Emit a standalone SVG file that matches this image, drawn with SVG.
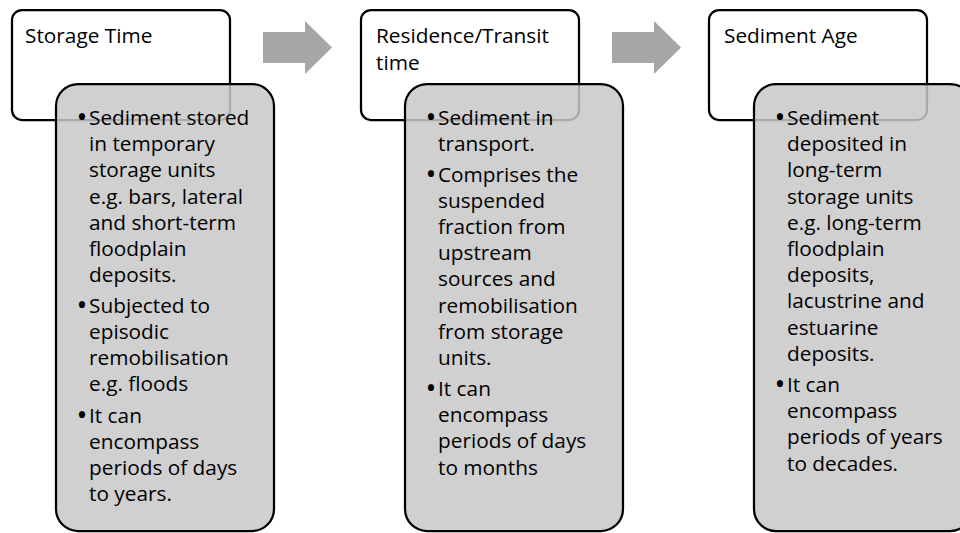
<svg xmlns="http://www.w3.org/2000/svg" width="960" height="533" viewBox="0 0 960 533">
<style>
.hdr{fill:#fff;stroke:#000;stroke-width:2.25}
.body{fill:#c8c8c8;fill-opacity:0.85;stroke:#000;stroke-width:2.25}
.arrow{fill:#a6a6a6}
text{font-family:"Open Sans","Liberation Sans",sans-serif;font-size:20.8px;fill:#000}
.b{font-size:29px}
</style>
<defs>
<polygon id="arr" points="0,11 42,11 42,0 69,26.5 42,53 42,42 0,42"/>
</defs>
<g id="connectors">
<use href="#arr" class="arrow" x="263" y="21"/>
<use href="#arr" class="arrow" x="612" y="21"/>
</g>
<g id="node1">
<rect class="hdr" x="12" y="10" width="218" height="110" rx="10"/>
<text x="25" y="43">Storage Time</text>
<rect class="body" x="56" y="84" width="218" height="447" rx="22"/>
<g>
<text class="b" x="82" y="127" text-anchor="middle">•</text>
<text class="b" x="82" y="314.5" text-anchor="middle">•</text>
<text class="b" x="82" y="424.5" text-anchor="middle">•</text>
<text x="89" y="125">Sediment stored</text>
<text x="89" y="151.2">in temporary</text>
<text x="89" y="177.4">storage units</text>
<text x="89" y="203.6">e.g. bars, lateral</text>
<text x="89" y="229.8">and short-term</text>
<text x="89" y="256">floodplain</text>
<text x="89" y="282.2">deposits.</text>
<text x="89" y="312.5">Subjected to</text>
<text x="89" y="338.7">episodic</text>
<text x="89" y="364.9">remobilisation</text>
<text x="89" y="391.1">e.g. floods</text>
<text x="89" y="422.5">It can</text>
<text x="89" y="448.7">encompass</text>
<text x="89" y="474.9">periods of days</text>
<text x="89" y="501.1">to years.</text>
</g>
</g>
<g id="node2">
<rect class="hdr" x="361" y="10" width="218" height="110" rx="10"/>
<text x="376" y="43">Residence/Transit</text>
<text x="376" y="70">time</text>
<rect class="body" x="405" y="84" width="218" height="447" rx="22"/>
<g>
<text class="b" x="431" y="127" text-anchor="middle">•</text>
<text class="b" x="431" y="183.5" text-anchor="middle">•</text>
<text class="b" x="431" y="398" text-anchor="middle">•</text>
<text x="438" y="125">Sediment in</text>
<text x="438" y="151.2">transport.</text>
<text x="438" y="181.5">Comprises the</text>
<text x="438" y="207.7">suspended</text>
<text x="438" y="233.9">fraction from</text>
<text x="438" y="260.1">upstream</text>
<text x="438" y="286.3">sources and</text>
<text x="438" y="312.5">remobilisation</text>
<text x="438" y="338.7">from storage</text>
<text x="438" y="364.9">units.</text>
<text x="438" y="396">It can</text>
<text x="438" y="422.2">encompass</text>
<text x="438" y="448.4">periods of days</text>
<text x="438" y="474.6">to months</text>
</g>
</g>
<g id="node3">
<rect class="hdr" x="709" y="10" width="218" height="110" rx="10"/>
<text x="724" y="43">Sediment Age</text>
<rect class="body" x="754" y="84" width="218" height="447" rx="22"/>
<g>
<text class="b" x="780" y="127" text-anchor="middle">•</text>
<text class="b" x="780" y="394" text-anchor="middle">•</text>
<text x="787" y="125">Sediment</text>
<text x="787" y="151.2">deposited in</text>
<text x="787" y="177.4">long-term</text>
<text x="787" y="203.6">storage units</text>
<text x="787" y="229.8">e.g. long-term</text>
<text x="787" y="256">floodplain</text>
<text x="787" y="282.2">deposits,</text>
<text x="787" y="308.4">lacustrine and</text>
<text x="787" y="334.6">estuarine</text>
<text x="787" y="360.8">deposits.</text>
<text x="787" y="392">It can</text>
<text x="787" y="418.2">encompass</text>
<text x="787" y="444.4">periods of years</text>
<text x="787" y="470.6">to decades.</text>
</g>
</g>
</svg>
